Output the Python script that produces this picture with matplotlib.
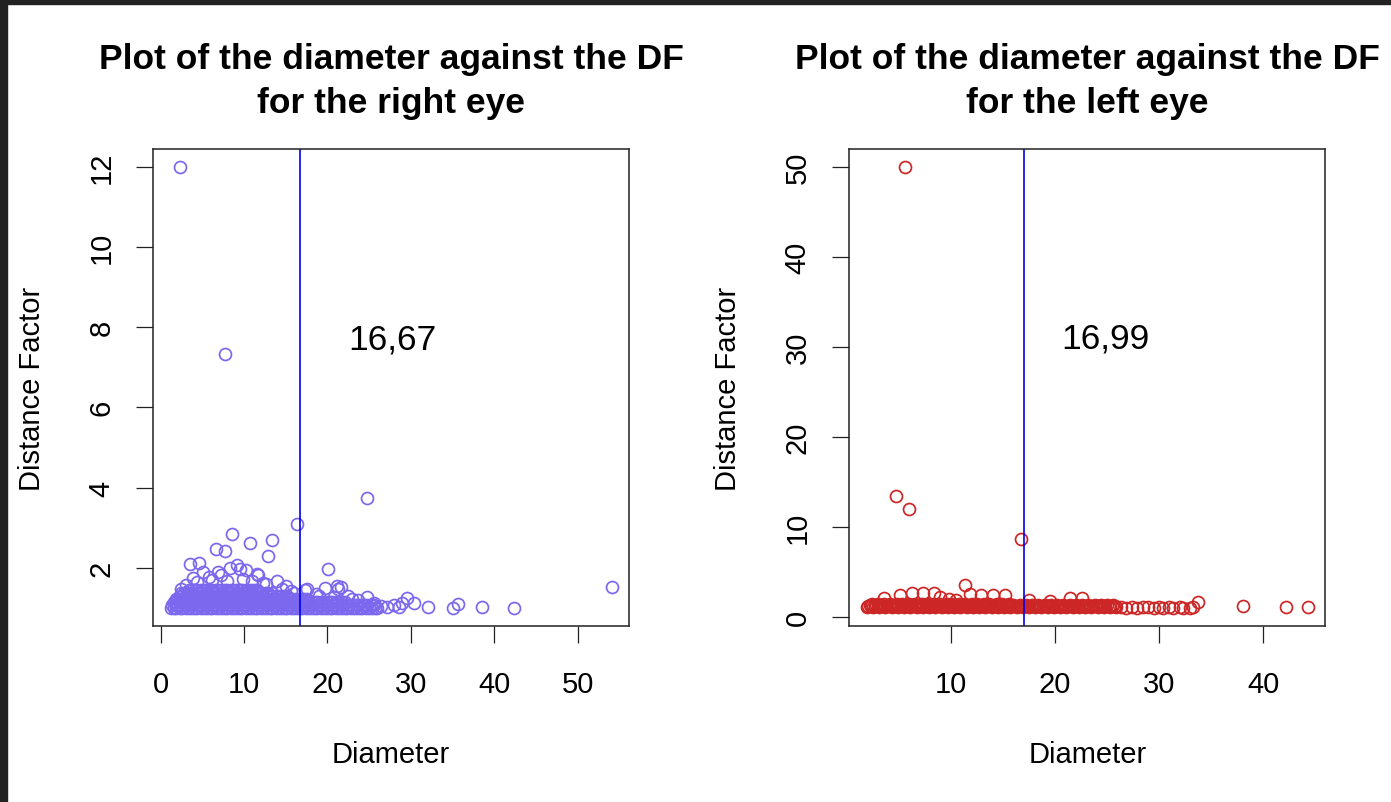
import matplotlib
matplotlib.use("Agg")
import matplotlib.pyplot as plt
from matplotlib.patches import Rectangle

plt.rcParams['font.family'] = ['Liberation Sans', 'DejaVu Sans']

# ---- right eye: diameter vs distance factor ----
# dense band of observations, grouped by distance factor level
right_rows = [
    (1.000, [1.2, 1.6, 1.9, 2.3, 2.6, 3.0, 3.4, 3.7, 4.1, 4.4, 4.8, 5.2, 5.5, 5.9, 6.2,
             6.6, 7.0, 7.3, 7.7, 8.0, 8.4, 8.8, 9.1, 9.5, 9.8, 10.2, 10.6, 10.9, 11.3,
             11.6, 12.0, 12.4, 12.7, 13.1, 13.4, 13.8, 14.2, 14.5, 14.9, 15.2, 15.6, 16.0,
             16.3, 16.7, 17.0, 17.4, 17.8, 18.1, 18.5, 18.8, 19.2, 19.6, 19.9, 20.3, 20.6,
             21.0, 21.4, 21.7, 22.1, 22.4, 22.8, 23.2, 23.5, 23.9, 24.2, 24.6, 25.0, 25.3,
             25.7, 26.0]),
    (1.075, [1.4, 1.8, 2.1, 2.5, 2.8, 3.2, 3.6, 3.9, 4.3, 4.6, 5.0, 5.4, 5.7, 6.1, 6.4,
             6.8, 7.2, 7.5, 7.9, 8.2, 8.6, 9.0, 9.3, 9.7, 10.0, 10.4, 10.8, 11.1, 11.5,
             11.8, 12.2, 12.6, 12.9, 13.3, 13.6, 14.0, 14.4, 14.7, 15.1, 15.4, 15.8, 16.2,
             16.5, 16.9, 17.2, 17.6, 18.0, 18.3, 18.7, 19.0, 19.4, 19.8, 20.1, 20.5, 20.8,
             21.2, 21.6, 21.9, 22.3, 22.6, 23.0, 23.4, 23.7, 24.1, 24.4, 24.8, 25.2, 25.6]),
    (1.150, [1.6, 1.9, 2.3, 2.6, 3.0, 3.4, 3.7, 4.1, 4.4, 4.8, 5.2, 5.5, 5.9, 6.2, 6.6,
             7.0, 7.3, 7.7, 8.0, 8.4, 8.8, 9.1, 9.5, 9.8, 10.2, 10.6, 10.9, 11.3, 11.6,
             12.0, 12.4, 12.7, 13.1, 13.4, 13.8, 14.2, 14.5, 14.9, 15.2, 15.6, 16.0, 16.3,
             16.7, 17.0, 17.4, 17.8, 18.1, 18.5, 18.8, 19.2, 19.6, 19.9, 20.3, 20.6, 21.0,
             21.4, 21.7, 22.1]),
    (1.225, [1.8, 2.1, 2.5, 2.8, 3.2, 3.6, 3.9, 4.3, 4.6, 5.0, 5.4, 5.7, 6.1, 6.4, 6.8,
             7.2, 7.5, 7.9, 8.2, 8.6, 9.0, 9.3, 9.7, 10.0, 10.4, 10.8, 11.1, 11.5, 11.8,
             12.2, 12.6, 12.9, 13.3, 13.6, 14.0, 14.4, 14.7, 15.1, 15.4, 15.8, 16.2, 16.5,
             16.9, 17.2, 17.6]),
    (1.300, [2.3, 2.6, 3.0, 3.4, 3.7, 4.1, 4.4, 4.8, 5.2, 5.5, 5.9, 6.2, 6.6, 7.0, 7.3,
             7.7, 8.0, 8.4, 8.8, 9.1, 9.5, 9.8, 10.2, 10.6, 10.9, 11.3, 11.6, 12.0, 12.4,
             12.7, 13.1, 13.4, 13.8, 14.2, 14.5, 14.9, 15.2]),
    (1.375, [2.5, 2.8, 3.2, 3.6, 3.9, 4.3, 4.6, 5.0, 5.4, 5.7, 6.1, 6.4, 6.8, 7.2, 7.5,
             7.9, 8.2, 8.6, 9.0, 9.3, 9.7, 10.0, 10.4, 10.8, 11.1, 11.5, 11.8, 12.2, 12.6,
             12.9, 13.3]),
    (1.450, [3.4, 3.7, 4.1, 4.4, 4.8, 5.2, 5.5, 5.9, 6.2, 6.6, 7.0, 7.3, 7.7, 8.0, 8.4,
             8.8, 9.1, 9.5, 9.8, 10.2, 10.6, 10.9, 11.3, 11.6]),
]

# scattered observations away from the dense band
right_diam = [2.3, 7.7, 24.8, 16.4, 8.5, 10.7, 13.4, 12.9, 6.6, 7.7, 3.5, 4.6, 5.1, 6.9,
              8.3, 9.2, 9.5, 10.2, 11.5, 13.9, 2.5, 3.9, 17.3, 20.1, 21.1, 21.3, 21.6,
              19.7, 17.5, 11.7, 24.8, 29.5, 30.4, 32.1, 35.1, 35.7, 38.5, 42.4, 54.1,
              27.1, 28.0, 28.6, 26.4, 25.6, 5.8, 7.2, 12.3, 15.0, 16.0, 18.6, 22.5, 23.7,
              3.0, 4.3, 6.1, 8.0, 9.9, 11.0, 12.6, 14.5, 15.6, 19.0, 20.8, 23.0, 29.0]
right_df = [12.0, 7.33, 3.75, 3.09, 2.85, 2.62, 2.70, 2.30, 2.47, 2.43, 2.10, 2.13, 1.90,
            1.90, 2.00, 2.07, 1.97, 1.95, 1.85, 1.68, 1.47, 1.74, 1.45, 1.97, 1.55, 1.47,
            1.52, 1.50, 1.47, 1.82, 1.27, 1.24, 1.12, 1.03, 1.01, 1.10, 1.03, 0.99, 1.51,
            1.02, 1.07, 1.02, 1.05, 1.12, 1.78, 1.82, 1.62, 1.55, 1.38, 1.35, 1.30, 1.20,
            1.58, 1.64, 1.70, 1.66, 1.72, 1.68, 1.60, 1.48, 1.42, 1.30, 1.28, 1.22, 1.12]

# ---- left eye ----
left_rows = [
    (1.20, [1.9, 2.5, 3.1, 3.7, 4.3, 4.9, 5.5, 6.1, 6.7, 7.3, 7.9, 8.5, 9.1, 9.7, 10.3,
            10.9, 11.5, 12.1, 12.7, 13.3, 13.9, 14.5, 15.1, 15.7, 16.3, 16.9, 17.5, 18.1,
            18.7, 19.3, 19.9, 20.5, 21.1, 21.7, 22.3, 22.9, 23.5, 24.1, 24.7, 25.3, 25.9]),
    (1.25, [2.35, 2.95, 3.55, 4.15, 4.75, 5.35, 5.95, 6.55, 7.15, 7.75, 8.35, 8.95, 9.55,
            10.15, 10.75, 11.35, 11.95, 12.55, 13.15, 13.75, 14.35, 14.95, 15.55, 16.15,
            16.75, 17.35, 17.95, 18.55, 19.15, 19.75, 20.35, 20.95, 21.55, 22.15, 22.75,
            23.35, 23.95, 24.55, 25.15, 25.75]),
    (1.30, [2.05, 2.65, 3.25, 3.85, 4.45, 5.05, 5.65, 6.25, 6.85, 7.45, 8.05, 8.65, 9.25,
            9.85, 10.45, 11.05, 11.65, 12.25, 12.85, 13.45, 14.05, 14.65, 15.25, 15.85,
            16.45, 17.05, 17.65, 18.25, 18.85, 19.45, 20.05, 20.65, 21.25, 21.85, 22.45,
            23.05, 23.65, 24.25, 24.85, 25.45]),
    (1.40, [2.2, 2.8, 3.4, 4.0, 4.6, 5.2, 5.8, 6.4, 7.0, 7.6, 8.2, 8.8, 9.4, 10.0, 10.6,
            11.2, 11.8, 12.4, 13.0, 13.6, 14.2, 14.8, 15.4, 16.0, 16.6, 17.2, 17.8, 18.4,
            19.0, 19.6, 20.2, 20.8, 21.4, 22.0, 22.6, 23.2, 23.8, 24.4, 25.0, 25.6]),
    (1.50, [2.4, 3.0, 3.6, 4.1, 4.8, 5.3, 6.0, 6.5, 7.2, 7.7, 8.4, 8.9, 9.6, 10.1, 10.8,
            11.3, 12.0, 12.5, 13.2, 13.7, 14.4, 14.9, 15.6]),
]

left_diam = [5.6, 4.7, 6.0, 16.7, 11.3, 11.8, 12.9, 14.0, 15.2, 5.1, 6.3, 7.3, 8.4, 8.9,
             21.4, 22.6, 3.6, 9.8, 17.5, 19.5, 10.5,
             26.3, 26.8, 27.4, 27.9, 28.5, 28.9, 29.5, 30.0, 30.4, 31.0, 31.3, 32.0, 32.3,
             33.0, 33.3, 33.7, 38.1, 42.2, 44.3]
left_df = [50.0, 13.5, 12.0, 8.7, 3.6, 2.56, 2.5, 2.5, 2.45, 2.5, 2.7, 2.75, 2.75, 2.3,
           2.1, 2.15, 2.2, 2.0, 1.9, 1.8, 1.9,
           1.10, 1.05, 1.15, 1.00, 1.10, 1.15, 1.05, 1.10, 1.00, 1.12, 1.05, 1.10, 1.02,
           1.08, 1.15, 1.70, 1.30, 1.10, 1.10]

right_cut = 16.67
left_cut = 16.99

panels = [
    ("for the right eye", right_rows, right_diam, right_df, right_cut, "16,67",
     (27.8, 7.7), '#7B68EE', [0, 10, 20, 30, 40, 50], [2, 4, 6, 8, 10, 12], 0.110),
    ("for the left eye", left_rows, left_diam, left_df, left_cut, "16,99",
     (24.8, 31.0), '#CD2626', [10, 20, 30, 40], [0, 10, 20, 30, 40, 50], 0.6104),
]

fig = plt.figure(figsize=(13.91, 8.03), dpi=100)

for title2, rows, xs, ys, cut, lab, lab_xy, col, xt, yt, left in panels:
    ax = fig.add_axes([left, 0.2192, 0.3425, 0.594])
    px = list(xs)
    py = list(ys)
    for df, row in rows:
        px += row
        py += [df] * len(row)
    ax.plot(px, py, linestyle='none', marker='o', markersize=8.6,
            markerfacecolor='none', markeredgecolor=col, markeredgewidth=1.25)
    ax.margins(0.04)
    ax.axvline(cut, color='#0000EE', lw=1.2)
    ax.text(lab_xy[0], lab_xy[1], lab, ha='center', va='center', fontsize=25.5)

    ax.set_xticks(xt)
    ax.set_yticks(yt)
    ax.tick_params(direction='out', length=12, width=0.9, labelsize=21, color='#222222')
    ax.tick_params(axis='x', pad=20)
    ax.tick_params(axis='y', pad=15)
    for t in ax.get_yticklabels():
        t.set_rotation(90)
        t.set_va('center')
    for s in ax.spines.values():
        s.set_linewidth(1.1)
        s.set_color('#222222')
    ax.set_xlabel("Diameter", fontsize=21, labelpad=30)
    ax.set_ylabel("Distance Factor", fontsize=21, labelpad=30)

    cx = left + 0.3425 / 2
    fig.text(cx, 1 - 59 / 803, "Plot of the diameter against the DF", ha='center',
             va='center', fontsize=25.5, fontweight='bold')
    fig.text(cx, 1 - 103 / 803, title2, ha='center', va='center', fontsize=25.5,
             fontweight='bold')

# dark frame along the top and left edges
fig.patches.append(Rectangle((0, 1 - 5 / 803), 1, 5 / 803, transform=fig.transFigure,
                             color='#222222', zorder=10))
fig.patches.append(Rectangle((0, 0), 7 / 1391, 1, transform=fig.transFigure,
                             color='#222222', zorder=10))

fig.savefig("out.png", dpi=100)
